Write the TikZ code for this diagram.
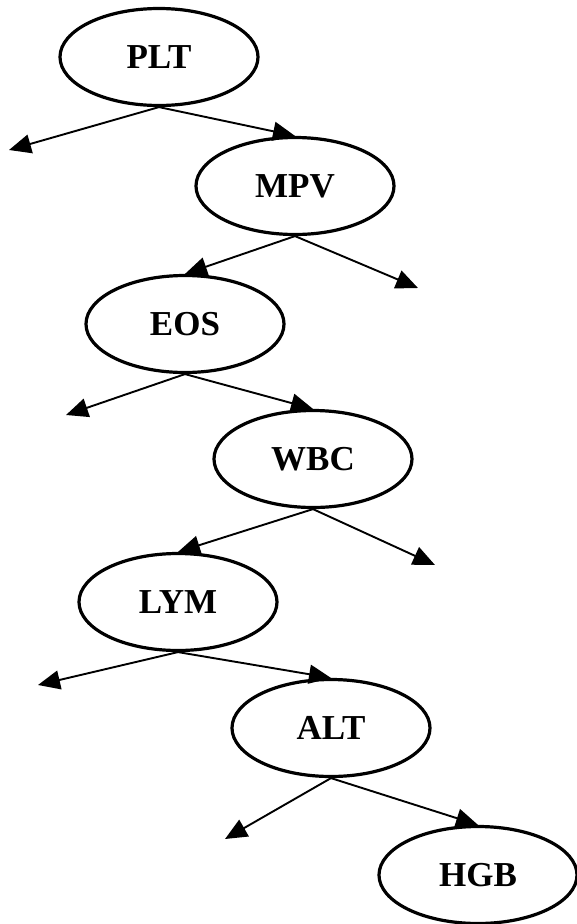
\documentclass[tikz,border=0pt]{standalone}
\usepackage{fontspec}
\setmainfont{Liberation Serif}
\usetikzlibrary{shapes.geometric,arrows.meta}
\begin{document}
\begin{tikzpicture}[x=1pt,y=-1pt,
  var/.style={ellipse, draw, line width=3.2pt, minimum width=198pt,
    minimum height=97pt, inner sep=0pt,
    font=\fontsize{35}{35}\selectfont\bfseries},
  link/.style={line width=1.9pt, -{Triangle[length=22pt,width=19pt]}}]
\useasboundingbox (0,0) rectangle (577,924);

% split variables, top to bottom
\node[var] (plt) at (159,57)  {PLT};
\node[var] (mpv) at (295,186) {MPV};
\node[var] (eos) at (185,324) {EOS};
\node[var] (wbc) at (313,459) {WBC};
\node[var] (lym) at (178,602) {LYM};
\node[var] (alt) at (331,728) {ALT};
\node[var] (hgb) at (478,875) {HGB};

% free ends of the branches that lead to leaves
\coordinate (leafA) at (9,150);
\coordinate (leafB) at (418,288);
\coordinate (leafC) at (66,415);
\coordinate (leafD) at (435,565);
\coordinate (leafE) at (38,685);
\coordinate (leafF) at (225,839);

% branches
\draw[link] (plt.south) -- (leafA);
\draw[link] (plt.south) -- (mpv.north);
\draw[link] (mpv.south) -- (eos.north);
\draw[link] (mpv.south) -- (leafB);
\draw[link] (eos.south) -- (leafC);
\draw[link] (eos.south) -- (wbc.north);
\draw[link] (wbc.south) -- (lym.north);
\draw[link] (wbc.south) -- (leafD);
\draw[link] (lym.south) -- (leafE);
\draw[link] (lym.south) -- (alt.north);
\draw[link] (alt.south) -- (leafF);
\draw[link] (alt.south) -- (hgb.north);
\end{tikzpicture}
\end{document}
